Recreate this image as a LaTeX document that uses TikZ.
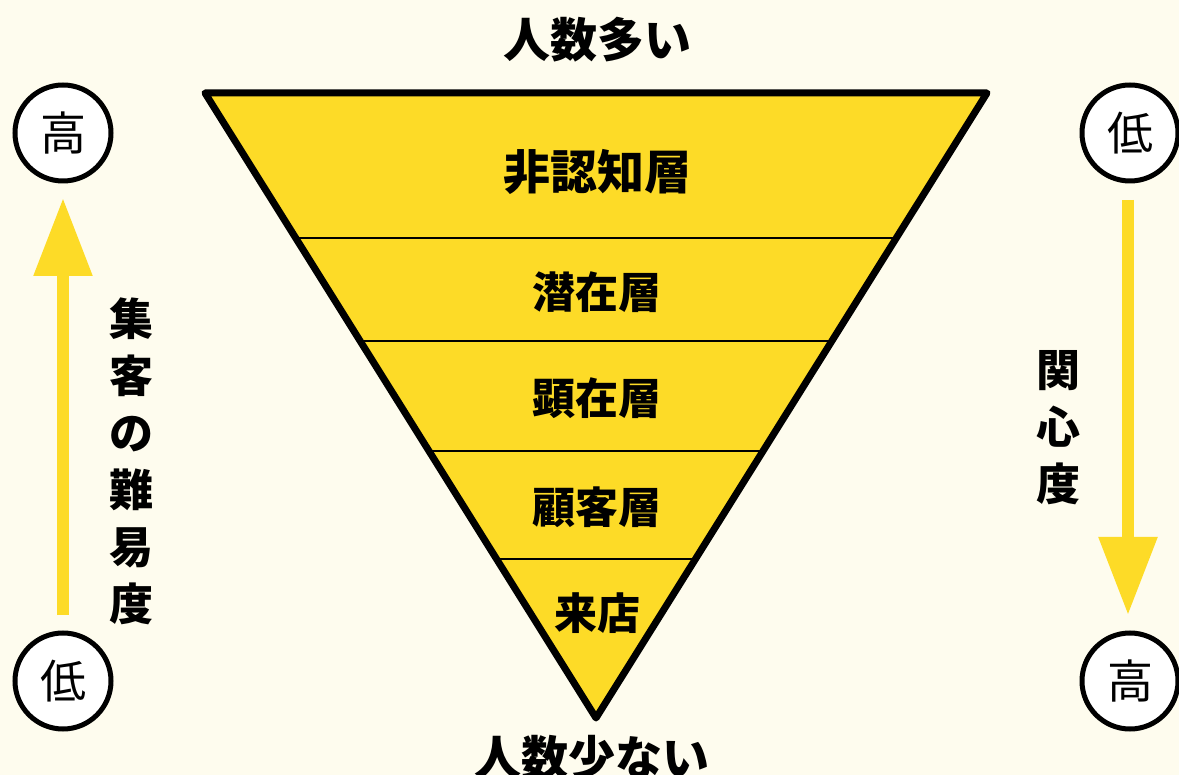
\documentclass[tikz,border=0pt]{standalone}
\usepackage{fontspec}
\newfontfamily\jp{Noto Sans CJK JP}
\usetikzlibrary{calc,arrows.meta}
\definecolor{bg}{HTML}{FEFCEE}
\definecolor{gold}{HTML}{FDDB27}
\tikzset{
  lvl/.style={circle,draw=black,line width=5pt,fill=white,minimum size=96pt,inner sep=0pt,outer sep=0pt,font=\jp\fontsize{46}{46}\selectfont},
  layer/.style={font=\jp\bfseries\fontsize{43}{43}\selectfont},
  big/.style={font=\jp\bfseries\fontsize{47}{47}\selectfont},
  vtext/.style={font=\jp\bfseries\fontsize{44}{57}\selectfont,align=center},
  garrow/.style={draw=gold,line width=12pt,-{Triangle[width=56pt,length=78pt]}}
}
\begin{document}
\begin{tikzpicture}[x=1pt,y=-1pt]
\fill[bg] (0,0) rectangle (1179,775);
\useasboundingbox (0,0) rectangle (1179,775);
\coordinate (A) at (205,93);
\coordinate (B) at (987,93);
\coordinate (C) at (596,718);
\fill[gold] (A) -- (B) -- (C) -- cycle;
\foreach \t/\n in {0.232/1,0.3968/2,0.5728/3,0.7456/4}{
  \coordinate (L\n) at ($(A)!\t!(C)$);
  \coordinate (R\n) at ($(B)!\t!(C)$);
  \draw[line width=2pt] (L\n) -- (R\n);
}
\draw[line width=7pt,line join=round] (A) -- (B) -- (C) -- cycle;
\node[big] (t1) at (597,172) {非認知層};
\node[layer] (t2) at (597,292) {潜在層};
\node[layer] (t3) at (597,398) {顕在層};
\node[layer] (t4) at (597,507) {顧客層};
\node[layer] (t5) at (597,613) {来店};
\node[big] (top) at (597,40) {人数多い};
\node[big] (bot) at (592,758) {人数少ない};
\node[lvl] (lh) at (63,133) {高};
\node[lvl] (ll) at (63,681) {低};
\node[lvl] (rl) at (1130,133) {低};
\node[lvl] (rh) at (1130,681) {高};
\draw[garrow,shorten <=18pt,shorten >=17pt] (ll) -- (lh);
\draw[garrow,shorten <=19pt,shorten >=18pt] ($(rl.south)+(-2,0)$) -- ($(rh.north)+(-2,0)$);
\node[vtext] (vl) at (131,461) {集\\客\\の\\難\\易\\度};
\node[vtext] (vr) at (1058,428) {関\\心\\度};
\end{tikzpicture}
\end{document}
